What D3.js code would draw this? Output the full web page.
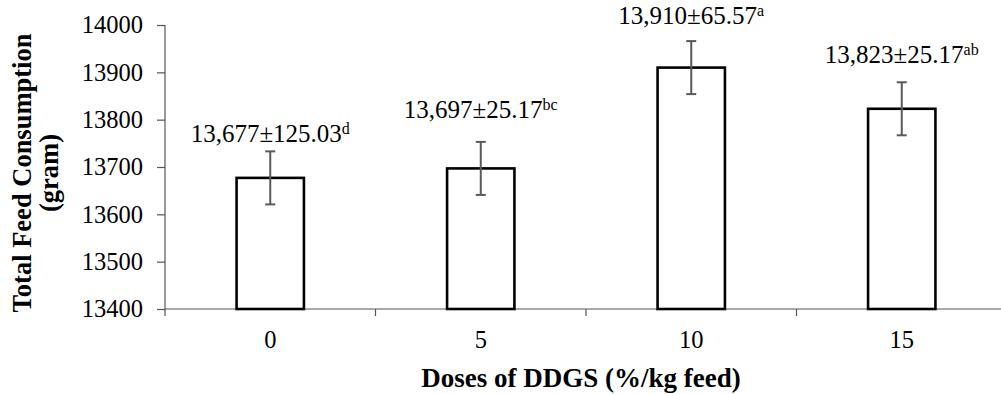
<!DOCTYPE html>
<html>
<head>
<meta charset="utf-8">
<script src="https://cdn.jsdelivr.net/npm/d3@7"></script>
<style>
  html, body { margin: 0; padding: 0; background: #fff; }
  svg { display: block; }
  text { font-family: "Liberation Serif", "Times New Roman", serif; fill: #000; }
</style>
</head>
<body>
<svg id="chart" width="1001" height="394"></svg>
<script>
// Dose groups and mean total feed consumption (g)
const doses = ["0", "5", "10", "15"];
const means = [13677, 13697, 13910, 13823];
const sdLabels = ["125.03", "25.17", "65.57", "25.17"];
const letters = ["d", "bc", "a", "ab"];
const errorBars = [56, 56, 56, 56];
const yTicks = [13400, 13500, 13600, 13700, 13800, 13900, 14000];

// Extra lift (px) of each value label above its error bar
const labelLift = [9, 24, 17, 19];

const svg = d3.select("#chart");
const plotL = 165, plotR = 1007, plotT = 25, plotB = 309;

const x = d3.scaleBand().domain(doses).range([plotL, plotR]).padding(0);
const y = d3.scaleLinear().domain([13400, 14000]).range([plotB, plotT]);
const barW = x.bandwidth() * 0.32;

const axisColor = "#555";

// y axis
const yAxis = svg.append("g")
  .attr("transform", `translate(${plotL},0)`)
  .call(d3.axisLeft(y).tickValues(yTicks).tickSize(8).tickPadding(14).tickFormat(d3.format("d")));
yAxis.selectAll("path, line").attr("stroke", axisColor).attr("stroke-width", 1.2);
yAxis.select(".domain").attr("d", `M0,${plotT}H0V${plotB + 7}`);
yAxis.selectAll("text")
  .style("font-family", '"Liberation Serif", serif')
  .style("font-size", "24.5px")
  .attr("fill", "#000");

// x axis baseline with ticks on category boundaries
const xg = svg.append("g");
xg.append("line")
  .attr("x1", plotL).attr("x2", 1001)
  .attr("y1", plotB).attr("y2", plotB)
  .attr("stroke", axisColor).attr("stroke-width", 1.2);
const boundaries = doses.slice(1).map(d => x(d));
xg.selectAll("line.tick")
  .data(boundaries)
  .join("line")
  .attr("class", "tick")
  .attr("x1", d => d).attr("x2", d => d)
  .attr("y1", plotB).attr("y2", plotB + 7)
  .attr("stroke", axisColor).attr("stroke-width", 1.2);
xg.selectAll("text.cat")
  .data(doses)
  .join("text")
  .attr("class", "cat")
  .attr("x", d => x(d) + x.bandwidth() / 2)
  .attr("y", 348)
  .attr("text-anchor", "middle")
  .style("font-size", "24.5px")
  .text(d => d);

// bars
svg.selectAll("rect.bar")
  .data(doses)
  .join("rect")
  .attr("class", "bar")
  .attr("x", d => x(d) + (x.bandwidth() - barW) / 2)
  .attr("width", barW)
  .attr("y", (d, i) => y(means[i]))
  .attr("height", (d, i) => plotB - y(means[i]))
  .attr("fill", "#fff")
  .attr("stroke", "#000")
  .attr("stroke-width", 2.6);

// error bars
const eb = svg.append("g").attr("stroke", "#595959").attr("stroke-width", 2);
doses.forEach((d, i) => {
  const cx = x(d) + x.bandwidth() / 2;
  const y1 = y(means[i] + errorBars[i]), y0 = y(means[i] - errorBars[i]);
  eb.append("line").attr("x1", cx).attr("x2", cx).attr("y1", y1).attr("y2", y0);
  eb.append("line").attr("x1", cx - 5).attr("x2", cx + 5).attr("y1", y1).attr("y2", y1);
  eb.append("line").attr("x1", cx - 5).attr("x2", cx + 5).attr("y1", y0).attr("y2", y0);
});

// value labels: mean ± SD with significance letters
const fmt = d3.format(",");
doses.forEach((d, i) => {
  const cx = x(d) + x.bandwidth() / 2;
  const ty = y(means[i] + errorBars[i]) - labelLift[i];
  const t = svg.append("text")
    .attr("x", cx).attr("y", ty)
    .attr("text-anchor", "middle")
    .style("font-size", "25px");
  t.append("tspan").text(`${fmt(means[i])}±${sdLabels[i]}`);
  t.append("tspan").attr("dy", -8).style("font-size", "16px").text(letters[i]);
});

// axis titles
svg.append("text")
  .attr("x", 581).attr("y", 387)
  .attr("text-anchor", "middle")
  .style("font-size", "27px").style("font-weight", "bold")
  .text("Doses of DDGS (%/kg feed)");

const yt = svg.append("text")
  .attr("transform", "translate(31,173) rotate(-90)")
  .attr("text-anchor", "middle")
  .style("font-size", "26.5px").style("font-weight", "bold");
yt.append("tspan").attr("x", 0).attr("y", 0).text("Total Feed Consumption");
yt.append("tspan").attr("x", 0).attr("y", 27).text("(gram)");
</script>
</body>
</html>
